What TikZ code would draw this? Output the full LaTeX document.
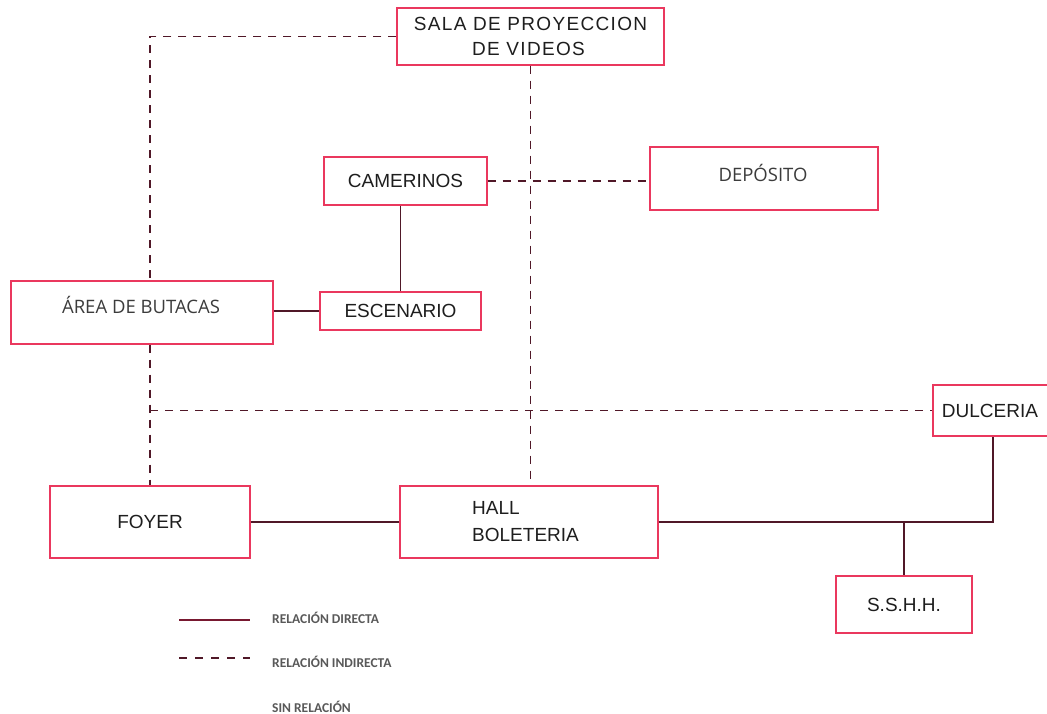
\documentclass[tikz,border=0pt]{standalone}
\usepackage{fontspec}
\setmainfont{Liberation Sans}
\newfontfamily\cadfont{Liberation Sans}
\newfontfamily\osfont{Open Sans}
\newfontfamily\legfont{Carlito}
\usetikzlibrary{calc}
\definecolor{boxred}{RGB}{234,56,94}
\definecolor{linkc}{RGB}{80,24,40}
\definecolor{txtc}{RGB}{30,30,30}
\definecolor{ostxt}{RGB}{60,60,60}
\definecolor{legtxt}{RGB}{89,89,89}
\begin{document}
\begin{tikzpicture}[x=1pt,y=-1pt,
  roombox/.style={draw=boxred,line width=1.4pt,fill=white,inner sep=0pt,
    font=\cadfont\fontsize{19}{25}\selectfont,text=txtc,align=center},
  ostext/.style={inner sep=0pt,font=\osfont\fontsize{18.5}{22}\selectfont,text=ostxt},
  direct/.style={draw=linkc,line width=1.6pt},
  indirect/.style={draw=linkc,line width=1.5pt,dash pattern=on 8pt off 7pt},
  legtext/.style={inner sep=0pt,anchor=west,font=\legfont\bfseries\fontsize{13.5}{16}\selectfont,text=legtxt}]
\useasboundingbox (0,0) rectangle (1047,714);
\fill[white] (0,0) rectangle (1047,714);
% rooms
\node[roombox,minimum width=267pt,minimum height=57pt] (sala) at (530.5,36.5)
  {\addfontfeatures{LetterSpace=7}SALA DE PROYECCION\\\addfontfeatures{LetterSpace=7}DE VIDEOS\hspace*{4pt}};
\node[roombox,minimum width=163pt,minimum height=48pt] (cam) at (405.5,181) {CAMERINOS};
\node[roombox,minimum width=228pt,minimum height=63pt] (dep) at (764,178.5) {};
\node[ostext] (deptxt) at (763,173) {DEPÓSITO};
\node[roombox,minimum width=262pt,minimum height=63pt] (area) at (142,312.5) {};
\node[ostext] (areatxt) at (141,305) {ÁREA DE BUTACAS};
\node[roombox,minimum width=161pt,minimum height=38pt] (esc) at (400.5,311) {ESCENARIO};
\node[roombox,minimum width=120pt,minimum height=51pt] (dul) at (993,410.5) {};
\node[inner sep=0pt,font=\cadfont\fontsize{19}{25}\selectfont,text=txtc] (dultxt) at (990,411) {DULCERIA};
\node[roombox,minimum width=200pt,minimum height=72pt] (foyer) at (150,522) {FOYER};
\node[roombox,minimum width=258pt,minimum height=72pt] (hall) at (529,522) {};
\node[inner sep=0pt,anchor=west,align=left,font=\cadfont\fontsize{19}{27}\selectfont,text=txtc] (halltxt) at (472,521.5) {HALL\\BOLETERIA};
\node[roombox,minimum width=136pt,minimum height=57pt] (sshh) at (904,604.5) {S.S.H.H.};
% indirect relations
\draw[indirect] (sala.west) -| (area.north -| foyer.north);
\draw[indirect] (sala.south) -- (sala.south |- hall.north);
\draw[indirect] (cam.east) -- (cam.east -| dep.west);
\draw[indirect] (foyer.north |- area.south) -- (foyer.north);
\draw[indirect] (foyer.north |- dul.west) -- (dul.west);
% direct relations
\draw[direct] (esc.north |- cam.south) -- (esc.north);
\draw[direct] (esc.west -| area.east) -- (esc.west);
\draw[direct] (foyer.east) -- (foyer.east -| hall.west);
\draw[direct] (hall.east) -| (dul.south);
\draw[direct] (sshh.north |- hall.east) -- (sshh.north);
% legend
\coordinate (l1a) at (179,620);
\coordinate (l1b) at (250,620);
\coordinate (l2a) at (179,658);
\coordinate (l2b) at (250,658);
\draw[direct,draw={rgb,255:red,120;green,24;blue,48}] (l1a) -- (l1b);
\draw[indirect,dash pattern=on 8pt off 8pt] (l2a) -- (l2b);
\node[legtext] (leg1) at (272,618) {RELACIÓN DIRECTA};
\node[legtext] (leg2) at (272,662) {RELACIÓN INDIRECTA};
\node[legtext] (leg3) at (272,707) {SIN RELACIÓN};
\end{tikzpicture}
\end{document}
